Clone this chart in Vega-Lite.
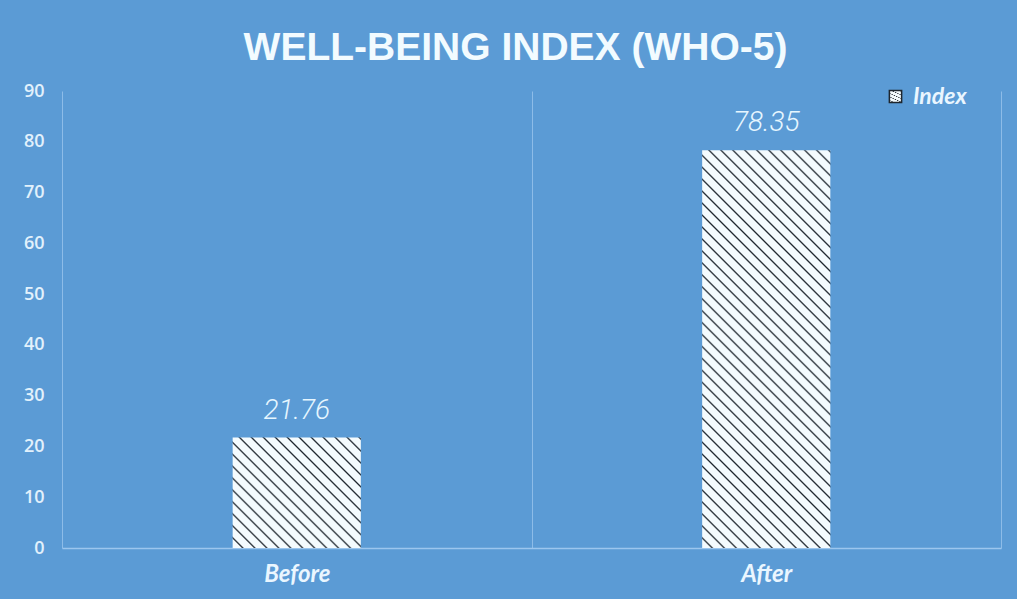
{
  "$schema": "https://vega.github.io/schema/vega-lite/v6.json",
  "width": 939,
  "height": 457,
  "autosize": {"type": "none"},
  "padding": {"left": 62, "top": 91, "right": 16, "bottom": 51},
  "background": "#5b9bd5",
  "title": {
    "text": "WELL-BEING INDEX (WHO-5)",
    "font": "Liberation Sans",
    "fontSize": 39,
    "fontWeight": "bold",
    "color": "#f2fbff",
    "anchor": "middle",
    "frame": "group",
    "dx": -16,
    "offset": 14
  },
  "data": {
    "values": [
      {"phase": "Before", "index": 21.76},
      {"phase": "After", "index": 78.35}
    ]
  },
  "layer": [
    {
      "mark": {"type": "bar", "width": {"band": 0.273}, "strokeWidth": 0},
      "encoding": {
        "x": {
          "field": "phase",
          "type": "nominal",
          "sort": ["Before", "After"],
          "scale": {"paddingInner": 0, "paddingOuter": 0},
          "axis": {
            "title": null,
            "labelAngle": 0,
            "labelFont": "Lato",
            "labelFontSize": 24,
            "labelFontWeight": "bold",
            "labelFontStyle": "italic",
            "labelColor": "#eaf6ff",
            "labelPadding": 14,
            "ticks": false,
            "tickSize": 0,
            "domain": true,
            "domainColor": "#9cc6ee",
            "domainWidth": 1.5,
            "grid": true,
            "gridColor": "#8dbce8",
            "gridWidth": 1,
            "tickBand": "extent"
          }
        },
        "y": {
          "field": "index",
          "type": "quantitative",
          "scale": {"domain": [0, 90]},
          "axis": {
            "title": null,
            "values": [0, 10, 20, 30, 40, 50, 60, 70, 80, 90],
            "grid": false,
            "domain": false,
            "ticks": false,
            "tickSize": 0,
            "labelFont": "Open Sans",
            "labelFontSize": 18,
            "labelFontWeight": 600,
            "labelColor": "#e2f1fc",
            "labelPadding": 18
          }
        },
        "fill": {
          "condition": {
            "test": "datum.phase === 'Before'",
            "value": {
              "gradient": "linear", "x1": 0, "y1": 1, "x2": 1.068, "y2": 0.077,
              "stops": [
                {"offset": 0, "color": "#f4fbfe"}, {"offset": 0.035, "color": "#f4fbfe"}, {"offset": 0.0425, "color": "#1e262e"},
                {"offset": 0.05, "color": "#f4fbfe"}, {"offset": 0.085, "color": "#f4fbfe"}, {"offset": 0.0925, "color": "#1e262e"},
                {"offset": 0.1, "color": "#f4fbfe"}, {"offset": 0.135, "color": "#f4fbfe"}, {"offset": 0.1425, "color": "#1e262e"},
                {"offset": 0.15, "color": "#f4fbfe"}, {"offset": 0.185, "color": "#f4fbfe"}, {"offset": 0.1925, "color": "#1e262e"},
                {"offset": 0.2, "color": "#f4fbfe"}, {"offset": 0.235, "color": "#f4fbfe"}, {"offset": 0.2425, "color": "#1e262e"},
                {"offset": 0.25, "color": "#f4fbfe"}, {"offset": 0.285, "color": "#f4fbfe"}, {"offset": 0.2925, "color": "#1e262e"},
                {"offset": 0.3, "color": "#f4fbfe"}, {"offset": 0.335, "color": "#f4fbfe"}, {"offset": 0.3425, "color": "#1e262e"},
                {"offset": 0.35, "color": "#f4fbfe"}, {"offset": 0.385, "color": "#f4fbfe"}, {"offset": 0.3925, "color": "#1e262e"},
                {"offset": 0.4, "color": "#f4fbfe"}, {"offset": 0.435, "color": "#f4fbfe"}, {"offset": 0.4425, "color": "#1e262e"},
                {"offset": 0.45, "color": "#f4fbfe"}, {"offset": 0.485, "color": "#f4fbfe"}, {"offset": 0.4925, "color": "#1e262e"},
                {"offset": 0.5, "color": "#f4fbfe"}, {"offset": 0.535, "color": "#f4fbfe"}, {"offset": 0.5425, "color": "#1e262e"},
                {"offset": 0.55, "color": "#f4fbfe"}, {"offset": 0.585, "color": "#f4fbfe"}, {"offset": 0.5925, "color": "#1e262e"},
                {"offset": 0.6, "color": "#f4fbfe"}, {"offset": 0.635, "color": "#f4fbfe"}, {"offset": 0.6425, "color": "#1e262e"},
                {"offset": 0.65, "color": "#f4fbfe"}, {"offset": 0.685, "color": "#f4fbfe"}, {"offset": 0.6925, "color": "#1e262e"},
                {"offset": 0.7, "color": "#f4fbfe"}, {"offset": 0.735, "color": "#f4fbfe"}, {"offset": 0.7425, "color": "#1e262e"},
                {"offset": 0.75, "color": "#f4fbfe"}, {"offset": 0.785, "color": "#f4fbfe"}, {"offset": 0.7925, "color": "#1e262e"},
                {"offset": 0.8, "color": "#f4fbfe"}, {"offset": 0.835, "color": "#f4fbfe"}, {"offset": 0.8425, "color": "#1e262e"},
                {"offset": 0.85, "color": "#f4fbfe"}, {"offset": 0.885, "color": "#f4fbfe"}, {"offset": 0.8925, "color": "#1e262e"},
                {"offset": 0.9, "color": "#f4fbfe"}, {"offset": 0.935, "color": "#f4fbfe"}, {"offset": 0.9425, "color": "#1e262e"},
                {"offset": 0.95, "color": "#f4fbfe"}, {"offset": 0.985, "color": "#f4fbfe"}, {"offset": 0.9925, "color": "#1e262e"},
                {"offset": 1, "color": "#f4fbfe"}
              ]
            }
          },
          "value": {
            "gradient": "linear", "x1": 0, "y1": 1, "x2": 0.385, "y2": -0.198,
            "stops": [
              {"offset": 0, "color": "#f4fbfe"}, {"offset": 0.01591, "color": "#f4fbfe"}, {"offset": 0.01932, "color": "#1e262e"},
              {"offset": 0.02273, "color": "#f4fbfe"}, {"offset": 0.03864, "color": "#f4fbfe"}, {"offset": 0.04205, "color": "#1e262e"},
              {"offset": 0.04545, "color": "#f4fbfe"}, {"offset": 0.06136, "color": "#f4fbfe"}, {"offset": 0.06477, "color": "#1e262e"},
              {"offset": 0.06818, "color": "#f4fbfe"}, {"offset": 0.08409, "color": "#f4fbfe"}, {"offset": 0.0875, "color": "#1e262e"},
              {"offset": 0.09091, "color": "#f4fbfe"}, {"offset": 0.10682, "color": "#f4fbfe"}, {"offset": 0.11023, "color": "#1e262e"},
              {"offset": 0.11364, "color": "#f4fbfe"}, {"offset": 0.12955, "color": "#f4fbfe"}, {"offset": 0.13296, "color": "#1e262e"},
              {"offset": 0.13636, "color": "#f4fbfe"}, {"offset": 0.15227, "color": "#f4fbfe"}, {"offset": 0.15568, "color": "#1e262e"},
              {"offset": 0.15909, "color": "#f4fbfe"}, {"offset": 0.175, "color": "#f4fbfe"}, {"offset": 0.17841, "color": "#1e262e"},
              {"offset": 0.18182, "color": "#f4fbfe"}, {"offset": 0.19773, "color": "#f4fbfe"}, {"offset": 0.20114, "color": "#1e262e"},
              {"offset": 0.20455, "color": "#f4fbfe"}, {"offset": 0.22046, "color": "#f4fbfe"}, {"offset": 0.22387, "color": "#1e262e"},
              {"offset": 0.22727, "color": "#f4fbfe"}, {"offset": 0.24318, "color": "#f4fbfe"}, {"offset": 0.24659, "color": "#1e262e"},
              {"offset": 0.25, "color": "#f4fbfe"}, {"offset": 0.26591, "color": "#f4fbfe"}, {"offset": 0.26932, "color": "#1e262e"},
              {"offset": 0.27273, "color": "#f4fbfe"}, {"offset": 0.28864, "color": "#f4fbfe"}, {"offset": 0.29205, "color": "#1e262e"},
              {"offset": 0.29545, "color": "#f4fbfe"}, {"offset": 0.31136, "color": "#f4fbfe"}, {"offset": 0.31477, "color": "#1e262e"},
              {"offset": 0.31818, "color": "#f4fbfe"}, {"offset": 0.33409, "color": "#f4fbfe"}, {"offset": 0.3375, "color": "#1e262e"},
              {"offset": 0.34091, "color": "#f4fbfe"}, {"offset": 0.35682, "color": "#f4fbfe"}, {"offset": 0.36023, "color": "#1e262e"},
              {"offset": 0.36364, "color": "#f4fbfe"}, {"offset": 0.37955, "color": "#f4fbfe"}, {"offset": 0.38296, "color": "#1e262e"},
              {"offset": 0.38636, "color": "#f4fbfe"}, {"offset": 0.40227, "color": "#f4fbfe"}, {"offset": 0.40568, "color": "#1e262e"},
              {"offset": 0.40909, "color": "#f4fbfe"}, {"offset": 0.425, "color": "#f4fbfe"}, {"offset": 0.42841, "color": "#1e262e"},
              {"offset": 0.43182, "color": "#f4fbfe"}, {"offset": 0.44773, "color": "#f4fbfe"}, {"offset": 0.45114, "color": "#1e262e"},
              {"offset": 0.45455, "color": "#f4fbfe"}, {"offset": 0.47046, "color": "#f4fbfe"}, {"offset": 0.47387, "color": "#1e262e"},
              {"offset": 0.47727, "color": "#f4fbfe"}, {"offset": 0.49318, "color": "#f4fbfe"}, {"offset": 0.49659, "color": "#1e262e"},
              {"offset": 0.5, "color": "#f4fbfe"}, {"offset": 0.51591, "color": "#f4fbfe"}, {"offset": 0.51932, "color": "#1e262e"},
              {"offset": 0.52273, "color": "#f4fbfe"}, {"offset": 0.53864, "color": "#f4fbfe"}, {"offset": 0.54205, "color": "#1e262e"},
              {"offset": 0.54545, "color": "#f4fbfe"}, {"offset": 0.56136, "color": "#f4fbfe"}, {"offset": 0.56477, "color": "#1e262e"},
              {"offset": 0.56818, "color": "#f4fbfe"}, {"offset": 0.58409, "color": "#f4fbfe"}, {"offset": 0.5875, "color": "#1e262e"},
              {"offset": 0.59091, "color": "#f4fbfe"}, {"offset": 0.60682, "color": "#f4fbfe"}, {"offset": 0.61023, "color": "#1e262e"},
              {"offset": 0.61364, "color": "#f4fbfe"}, {"offset": 0.62955, "color": "#f4fbfe"}, {"offset": 0.63296, "color": "#1e262e"},
              {"offset": 0.63636, "color": "#f4fbfe"}, {"offset": 0.65227, "color": "#f4fbfe"}, {"offset": 0.65568, "color": "#1e262e"},
              {"offset": 0.65909, "color": "#f4fbfe"}, {"offset": 0.675, "color": "#f4fbfe"}, {"offset": 0.67841, "color": "#1e262e"},
              {"offset": 0.68182, "color": "#f4fbfe"}, {"offset": 0.69773, "color": "#f4fbfe"}, {"offset": 0.70114, "color": "#1e262e"},
              {"offset": 0.70455, "color": "#f4fbfe"}, {"offset": 0.72046, "color": "#f4fbfe"}, {"offset": 0.72387, "color": "#1e262e"},
              {"offset": 0.72727, "color": "#f4fbfe"}, {"offset": 0.74318, "color": "#f4fbfe"}, {"offset": 0.74659, "color": "#1e262e"},
              {"offset": 0.75, "color": "#f4fbfe"}, {"offset": 0.76591, "color": "#f4fbfe"}, {"offset": 0.76932, "color": "#1e262e"},
              {"offset": 0.77273, "color": "#f4fbfe"}, {"offset": 0.78864, "color": "#f4fbfe"}, {"offset": 0.79205, "color": "#1e262e"},
              {"offset": 0.79545, "color": "#f4fbfe"}, {"offset": 0.81136, "color": "#f4fbfe"}, {"offset": 0.81477, "color": "#1e262e"},
              {"offset": 0.81818, "color": "#f4fbfe"}, {"offset": 0.83409, "color": "#f4fbfe"}, {"offset": 0.8375, "color": "#1e262e"},
              {"offset": 0.84091, "color": "#f4fbfe"}, {"offset": 0.85682, "color": "#f4fbfe"}, {"offset": 0.86023, "color": "#1e262e"},
              {"offset": 0.86364, "color": "#f4fbfe"}, {"offset": 0.87955, "color": "#f4fbfe"}, {"offset": 0.88296, "color": "#1e262e"},
              {"offset": 0.88636, "color": "#f4fbfe"}, {"offset": 0.90227, "color": "#f4fbfe"}, {"offset": 0.90568, "color": "#1e262e"},
              {"offset": 0.90909, "color": "#f4fbfe"}, {"offset": 0.925, "color": "#f4fbfe"}, {"offset": 0.92841, "color": "#1e262e"},
              {"offset": 0.93182, "color": "#f4fbfe"}, {"offset": 0.94773, "color": "#f4fbfe"}, {"offset": 0.95114, "color": "#1e262e"},
              {"offset": 0.95455, "color": "#f4fbfe"}, {"offset": 0.97046, "color": "#f4fbfe"}, {"offset": 0.97387, "color": "#1e262e"},
              {"offset": 0.97727, "color": "#f4fbfe"}, {"offset": 0.99318, "color": "#f4fbfe"}, {"offset": 0.99659, "color": "#1e262e"},
              {"offset": 1, "color": "#f4fbfe"}
            ]
          }
        },
        "stroke": {
          "datum": "Index",
          "type": "nominal",
          "scale": {"range": ["#1e262e"]},
          "legend": {
            "title": null,
            "orient": "none",
            "legendX": 822,
            "legendY": -6,
            "symbolType": "square",
            "symbolSize": 150,
            "labelFont": "Lato",
            "labelFontSize": 23,
            "labelFontWeight": "bold",
            "labelFontStyle": "italic",
            "labelColor": "#eaf6ff",
            "labelOffset": 6,
            "encode": {
              "symbols": {
                "update": {
                  "strokeWidth": {"value": 0},
                  "fill": {
                    "value": {
                      "gradient": "linear", "x1": 0, "y1": 1, "x2": 1, "y2": 0,
                      "stops": [
                        {"offset": 0, "color": "#f4fbfe"}, {"offset": 0.233, "color": "#f4fbfe"}, {"offset": 0.283, "color": "#1e262e"},
                        {"offset": 0.333, "color": "#f4fbfe"}, {"offset": 0.567, "color": "#f4fbfe"}, {"offset": 0.617, "color": "#1e262e"},
                        {"offset": 0.667, "color": "#f4fbfe"}, {"offset": 0.9, "color": "#f4fbfe"}, {"offset": 0.95, "color": "#1e262e"},
                        {"offset": 1, "color": "#f4fbfe"}
                      ]
                    }
                  }
                }
              }
            }
          }
        }
      }
    },
    {
      "mark": {
        "type": "text",
        "font": "Roboto",
        "fontStyle": "italic",
        "fontWeight": 300,
        "fontSize": 28,
        "color": "#e6f6ff",
        "baseline": "alphabetic",
        "dy": -19
      },
      "encoding": {
        "x": {"field": "phase", "type": "nominal", "sort": ["Before", "After"]},
        "y": {"field": "index", "type": "quantitative"},
        "text": {"field": "index", "type": "quantitative", "format": ".2f"}
      }
    }
  ],
  "config": {"view": {"stroke": null}}
}
